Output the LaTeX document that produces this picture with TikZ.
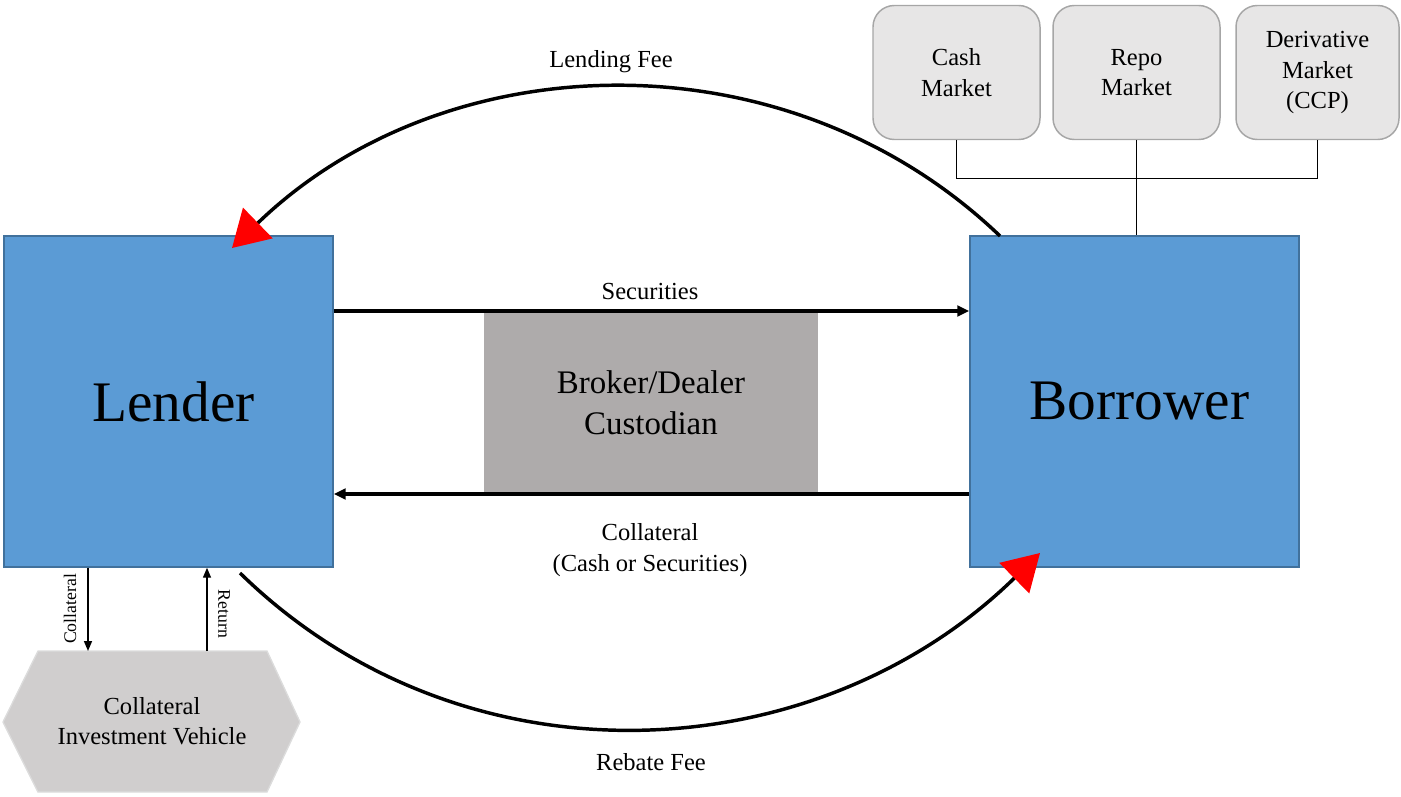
\documentclass[tikz,border=0pt]{standalone}
\usepackage{fontspec}
\setmainfont{Liberation Serif}
\usetikzlibrary{arrows.meta}
\definecolor{boxblue}{HTML}{5B9BD5}
\definecolor{boxedge}{HTML}{41719C}
\definecolor{brokergray}{HTML}{AEABAB}
\definecolor{mktfill}{HTML}{E7E6E6}
\definecolor{mktedge}{HTML}{A6A6A6}
\definecolor{hexfill}{HTML}{D0CECE}
\definecolor{hexedge}{HTML}{DCDCDC}
\definecolor{arrowred}{HTML}{FF0000}
\begin{document}
\begin{tikzpicture}[x=0.75pt,y=-0.75pt,
  party/.style={draw=boxedge, line width=1.1pt, fill=boxblue, minimum width=246.75pt, minimum height=248.25pt, inner sep=0pt, font=\fontsize{43}{50}\selectfont},
  brokerbox/.style={fill=brokergray, minimum width=250.5pt, minimum height=135.75pt, inner sep=0pt, align=center, font=\fontsize{24.7}{30.75}\selectfont},
  mktbox/.style={draw=mktedge, line width=1.1pt, fill=mktfill, rounded corners=16pt, minimum height=100.5pt, inner sep=0pt, align=center, font=\fontsize{18.4}{23}\selectfont},
  lbl/.style={align=center, inner sep=0pt, font=\fontsize{18.4}{23}\selectfont},
  smalllbl/.style={inner sep=0pt, font=\fontsize{13.3}{15}\selectfont},
  thickarrow/.style={line width=2.6pt, -{Triangle[length=9pt, width=8pt]}},
  fee/.style={line width=2.6pt, -{Triangle[length=27pt, width=31.5pt, color=arrowred]}},
  smallarrow/.style={line width=1.1pt, -{Triangle[length=7.5pt, width=6pt]}},
  mktline/.style={line width=0.6pt, draw=black},
  hexshape/.style={fill=hexfill, draw=hexedge, line width=1pt}
]
\useasboundingbox (0,0) rectangle (1401,796);

% main parties
\node[party] (lender) at (168.5,401.5) {\hspace*{7.5pt}Lender};
\node[party] (borrower) at (1134.5,401.5) {\hspace*{7.5pt}Borrower};
\node[brokerbox] (broker) at (651,402.5) {Broker/Dealer\\Custodian};

% markets
\node[mktbox, minimum width=125.25pt] (cash) at (956.5,72.5) {Cash\\Market};
\node[mktbox, minimum width=125.25pt] (repo) at (1136.5,72.5) {Repo\\Market};
\node[mktbox, minimum width=122.25pt] (deriv) at (1317.5,72.5) {Derivative\\Market\\(CCP)};
\draw[mktline] (cash.south) -- ++(0,38) -| (deriv.south);
\draw[mktline] (repo.south) -- (repo.south |- borrower.north);

% securities / collateral arrows
\coordinate (secy) at (0,311);
\coordinate (coly) at (0,494);
\draw[thickarrow] (lender.east |- secy) -- (borrower.west |- secy);
\draw[thickarrow] (borrower.west |- coly) -- (lender.east |- coly);
\node[lbl] (seclbl) at (650,291) {Securities};
\node[lbl] (collbl) at (650,550) {Collateral\\(Cash or Securities)};

% fee arcs
\coordinate (lfstart) at (1000,236);
\coordinate (lftip) at (232,248);
\coordinate (rbstart) at (240,573);
\coordinate (rbtip) at (1040,553);
\draw[fee] (lfstart) .. controls (787,32) and (445,42) .. (lftip);
\draw[fee] (rbstart) .. controls (464,792) and (816,772) .. (rbtip);
\node[lbl] (lflbl) at (611,62) {Lending Fee};
\node[lbl] (rblbl) at (651,762) {Rebate Fee};

% collateral investment vehicle
\draw[hexshape] (3,722) -- (38,651) -- (267,651) -- (300,722) -- (267,792) -- (38,792) -- cycle;
\node[lbl] (civ) at (152,721) {Collateral\\Investment Vehicle};
\coordinate (colx) at (88,651);
\coordinate (retx) at (207,651);
\draw[smallarrow] (lender.south -| colx) -- (colx);
\draw[smallarrow] (retx) -- (lender.south -| retx);
\node[smalllbl, rotate=90] (colsmall) at (70,609) {Collateral};
\node[smalllbl, rotate=-90] (retsmall) at (224,614) {Return};
\end{tikzpicture}
\end{document}
